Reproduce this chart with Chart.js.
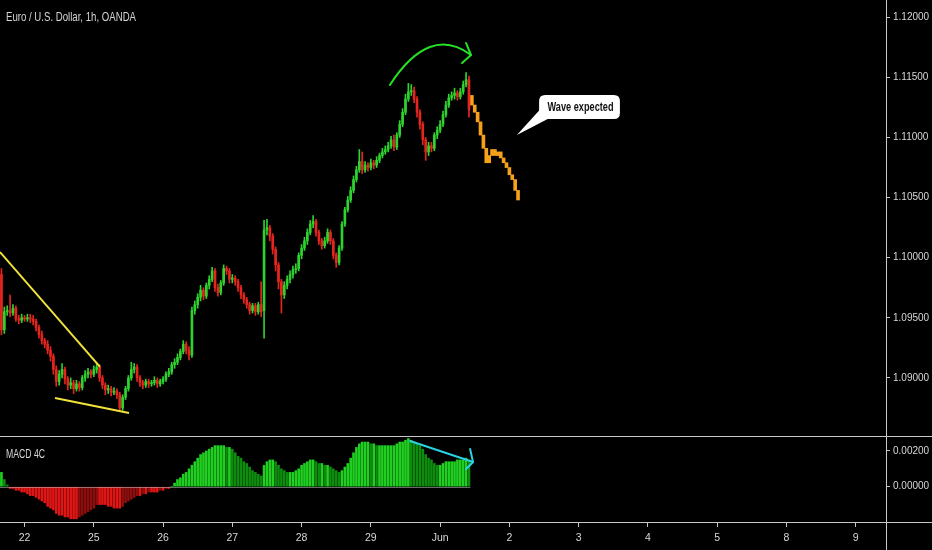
<!DOCTYPE html>
<html><head><meta charset="utf-8">
<script src="https://cdn.jsdelivr.net/npm/chart.js@4.4.1/dist/chart.umd.min.js"></script>
<style>
html,body{margin:0;padding:0;background:#000;overflow:hidden;}
#wrap{position:relative;width:932px;height:550px;background:#000;}
#c1{position:absolute;left:0;top:0;width:932px;height:437px;}
#c2{position:absolute;left:0;top:437px;width:932px;height:113px;}
</style></head><body>
<div id="wrap"><canvas id="c1" width="932" height="437"></canvas><canvas id="c2" width="932" height="113"></canvas></div>
<script>
// ---- hourly EUR/USD candles (OANDA, 1h) ----
const opens = [
1.0986,1.0940,1.0955,1.0956,1.0954,1.0958,1.0949,1.0948,1.0950,1.0949,
1.0950,1.0949,1.0947,1.0942,1.0936,1.0931,1.0928,1.0923,1.0918,1.0907,
1.0897,1.0903,1.0907,1.0899,1.0894,1.0896,1.0891,1.0895,1.0892,1.0900,
1.0903,1.0905,1.0903,1.0907,1.0909,1.0900,1.0894,1.0890,1.0891,1.0888,
1.0889,1.0886,1.0875,1.0884,1.0891,1.0900,1.0907,1.0909,1.0900,1.0896,
1.0894,1.0897,1.0895,1.0896,1.0898,1.0895,1.0897,1.0899,1.0903,1.0905,
1.0911,1.0913,1.0917,1.0922,1.0928,1.0923,1.0919,1.0956,1.0961,1.0967,
1.0973,1.0968,1.0977,1.0982,1.0989,1.0975,1.0971,1.0979,1.0991,1.0989,
1.0982,1.0983,1.0980,1.0975,1.0969,1.0965,1.0961,1.0956,1.0960,1.0955,
1.0961,1.0956,1.1023,1.1025,1.1018,1.1007,1.0994,1.0980,1.0969,1.0977,
1.0982,1.0986,1.0990,1.0991,1.1002,1.1008,1.1014,1.1021,1.1028,1.1030,
1.1021,1.1014,1.1010,1.1014,1.1021,1.1014,1.1002,1.0996,1.1008,1.1028,
1.1040,1.1048,1.1056,1.1065,1.1073,1.1080,1.1073,1.1077,1.1075,1.1079,
1.1077,1.1081,1.1085,1.1088,1.1090,1.1093,1.1098,1.1092,1.1102,1.1111,
1.1121,1.1132,1.1138,1.1139,1.1132,1.1121,1.1111,1.1098,1.1088,1.1093,
1.1091,1.1102,1.1106,1.1111,1.1119,1.1127,1.1133,1.1135,1.1137,1.1134,
1.1138,1.1144,1.1148];
const highs = [
1.0991,1.0959,1.0960,1.0969,1.0961,1.0960,1.0952,1.0953,1.0952,1.0953,
1.0953,1.0952,1.0949,1.0944,1.0939,1.0933,1.0931,1.0926,1.0920,1.0910,
1.0906,1.0912,1.0909,1.0901,1.0900,1.0898,1.0898,1.0897,1.0902,1.0906,
1.0908,1.0907,1.0910,1.0912,1.0911,1.0902,1.0896,1.0894,1.0893,1.0892,
1.0891,1.0888,1.0886,1.0893,1.0902,1.0913,1.0912,1.0911,1.0902,1.0898,
1.0899,1.0899,1.0898,1.0901,1.0900,1.0899,1.0901,1.0905,1.0908,1.0913,
1.0916,1.0920,1.0924,1.0931,1.0930,1.0926,1.0959,1.0964,1.0970,1.0977,
1.0975,1.0979,1.0985,1.0992,1.0991,1.0978,1.0981,1.0994,1.0993,1.0991,
1.0986,1.0985,1.0982,1.0977,1.0971,1.0967,1.0963,1.0962,1.0962,1.0963,
1.0980,1.1031,1.1032,1.1027,1.1020,1.1009,1.0996,1.0982,1.0980,1.0985,
1.0989,1.0993,1.0995,1.1004,1.1011,1.1017,1.1024,1.1031,1.1035,1.1032,
1.1023,1.1016,1.1017,1.1024,1.1023,1.1016,1.1004,1.1010,1.1030,1.1042,
1.1051,1.1059,1.1068,1.1076,1.1090,1.1088,1.1080,1.1079,1.1082,1.1081,
1.1084,1.1087,1.1091,1.1093,1.1096,1.1101,1.1102,1.1104,1.1114,1.1124,
1.1136,1.1145,1.1144,1.1142,1.1134,1.1123,1.1113,1.1100,1.1096,1.1096,
1.1104,1.1109,1.1114,1.1122,1.1130,1.1136,1.1138,1.1141,1.1139,1.1141,
1.1147,1.1154,1.1151];
const lows = [
1.0936,1.0937,1.0952,1.0951,1.0952,1.0947,1.0945,1.0946,1.0947,1.0947,
1.0946,1.0944,1.0939,1.0933,1.0928,1.0925,1.0920,1.0914,1.0903,1.0893,
1.0894,1.0900,1.0895,1.0890,1.0891,1.0887,1.0889,1.0889,1.0890,1.0897,
1.0900,1.0900,1.0901,1.0904,1.0897,1.0891,1.0886,1.0887,1.0885,1.0886,
1.0883,1.0872,1.0873,1.0882,1.0889,1.0898,1.0904,1.0897,1.0893,1.0891,
1.0892,1.0892,1.0893,1.0894,1.0892,1.0893,1.0895,1.0897,1.0901,1.0903,
1.0908,1.0911,1.0915,1.0920,1.0920,1.0915,1.0917,1.0953,1.0958,1.0964,
1.0965,1.0966,1.0974,1.0980,1.0972,1.0968,1.0969,1.0977,1.0986,1.0979,
1.0979,1.0977,1.0972,1.0966,1.0962,1.0958,1.0953,1.0954,1.0952,1.0953,
1.0951,1.0933,1.1019,1.1014,1.1003,1.0989,1.0974,1.0954,1.0966,1.0974,
1.0979,1.0983,1.0987,1.0989,1.0999,1.1006,1.1011,1.1019,1.1025,1.1018,
1.1011,1.1007,1.1008,1.1012,1.1011,1.0999,1.0992,1.0994,1.1006,1.1026,
1.1038,1.1046,1.1054,1.1063,1.1071,1.1070,1.1071,1.1072,1.1073,1.1074,
1.1075,1.1079,1.1083,1.1086,1.1088,1.1091,1.1089,1.1090,1.1100,1.1109,
1.1119,1.1130,1.1135,1.1129,1.1117,1.1107,1.1094,1.1081,1.1085,1.1088,
1.1089,1.1099,1.1104,1.1109,1.1117,1.1125,1.1131,1.1132,1.1131,1.1132,
1.1136,1.1142,1.1117];
const closes = [
1.0940,1.0955,1.0956,1.0954,1.0958,1.0949,1.0948,1.0950,1.0949,1.0950,
1.0949,1.0947,1.0942,1.0936,1.0931,1.0928,1.0923,1.0918,1.0907,1.0897,
1.0903,1.0907,1.0899,1.0894,1.0896,1.0891,1.0895,1.0892,1.0900,1.0903,
1.0905,1.0903,1.0907,1.0909,1.0900,1.0894,1.0890,1.0891,1.0888,1.0889,
1.0886,1.0875,1.0884,1.0891,1.0900,1.0907,1.0909,1.0900,1.0896,1.0894,
1.0897,1.0895,1.0896,1.0898,1.0895,1.0897,1.0899,1.0903,1.0905,1.0911,
1.0913,1.0917,1.0922,1.0928,1.0923,1.0919,1.0956,1.0961,1.0967,1.0973,
1.0968,1.0977,1.0982,1.0989,1.0975,1.0971,1.0979,1.0991,1.0989,1.0982,
1.0983,1.0980,1.0975,1.0969,1.0965,1.0961,1.0956,1.0960,1.0955,1.0961,
1.0955,1.1023,1.1025,1.1018,1.1007,1.0994,1.0980,1.0969,1.0977,1.0982,
1.0986,1.0990,1.0991,1.1002,1.1008,1.1014,1.1021,1.1028,1.1030,1.1021,
1.1014,1.1010,1.1014,1.1021,1.1014,1.1002,1.0996,1.1008,1.1028,1.1040,
1.1048,1.1056,1.1065,1.1073,1.1080,1.1073,1.1077,1.1075,1.1079,1.1077,
1.1081,1.1085,1.1088,1.1090,1.1093,1.1098,1.1092,1.1102,1.1111,1.1121,
1.1132,1.1138,1.1139,1.1132,1.1121,1.1111,1.1098,1.1088,1.1093,1.1091,
1.1102,1.1106,1.1111,1.1119,1.1127,1.1133,1.1135,1.1137,1.1134,1.1138,
1.1144,1.1148,1.1123];

// ---- projected path (orange) ----
const projStart = 163;
const projOpens  = [1.1135,1.1127,1.1121,1.1113,1.1102,1.1091,1.1079,1.1085,1.1090,1.1085,1.1088,1.1083,1.1079,1.1075,1.1069,1.1065,1.1056];
const projCloses = [1.1127,1.1121,1.1113,1.1102,1.1091,1.1079,1.1085,1.1090,1.1085,1.1088,1.1083,1.1079,1.1075,1.1069,1.1065,1.1056,1.1048];

// ---- MACD 4C histogram ----
const macdHist = [
0.0008,0.0004,0.0001,-0.0001,-0.0001,-0.0002,-0.0002,-0.0003,-0.0003,-0.0004,
-0.0005,-0.0005,-0.0006,-0.0007,-0.0008,-0.0009,-0.0011,-0.0012,-0.0013,-0.0015,
-0.0016,-0.0016,-0.0017,-0.0017,-0.0018,-0.0018,-0.0018,-0.0017,-0.0016,-0.0015,
-0.0014,-0.0013,-0.0012,-0.0010,-0.0010,-0.0010,-0.0010,-0.0011,-0.0011,-0.0012,
-0.0012,-0.0012,-0.0011,-0.0009,-0.0008,-0.0007,-0.0006,-0.0005,-0.0005,-0.0004,
-0.0004,-0.0003,-0.0003,-0.0003,-0.0003,-0.0002,-0.0002,-0.0001,-0.0001,0.0000,
0.0002,0.0004,0.0005,0.0007,0.0008,0.0010,0.0012,0.0014,0.0016,0.0018,
0.0019,0.0020,0.0021,0.0022,0.0023,0.0023,0.0023,0.0023,0.0022,0.0022,
0.0021,0.0019,0.0017,0.0016,0.0014,0.0013,0.0011,0.0009,0.0008,0.0007,
0.0006,0.0012,0.0014,0.0015,0.0015,0.0014,0.0012,0.0010,0.0009,0.0008,
0.0008,0.0008,0.0009,0.0010,0.0012,0.0013,0.0014,0.0015,0.0015,0.0014,
0.0013,0.0013,0.0012,0.0012,0.0011,0.0010,0.0009,0.0008,0.0009,0.0011,
0.0013,0.0016,0.0019,0.0022,0.0024,0.0025,0.0025,0.0025,0.0024,0.0024,
0.0023,0.0023,0.0023,0.0023,0.0023,0.0023,0.0023,0.0024,0.0025,0.0025,
0.0026,0.0027,0.0026,0.0025,0.0024,0.0023,0.0021,0.0018,0.0016,0.0015,
0.0013,0.0012,0.0012,0.0013,0.0014,0.0014,0.0014,0.0014,0.0015,0.0015,
0.0015,0.0016,0.0015];

// ---- axes ----
const slotCount = 307;                       // hourly slots across the visible time axis
const dayTickIndex = [8,32,56,80,104,128,152,176,200,224,248,272,296];
const dayTickText  = ['22','25','26','27','28','29','Jun','2','3','4','5','8','9'];
const priceTicks = [1.09,1.095,1.10,1.105,1.11,1.115,1.12];
const macdTicks = [0,0.002];
const priceMin = 1.085083, priceMax = 1.121439;
const macdMin = -0.002034, macdMax = 0.002784;

// ---- drawings (in slot index / price units) ----
const trendUpper = [[-0.5,1.10047],[34.15,1.09091]];
const trendLower = [[18.56,1.08833],[44.2,1.08708]];
const arcStart = [134.6,1.11437], arcCtrl = [148.3,1.11944], arcEnd = [162.7,1.11686];
const arcHead = [[161.0,1.11786],[159.6,1.11620]];
const bubble = {left:186.3,right:214.3,top:1.11353,bottom:1.11153,tip:[178.6,1.11021],sideP:1.11229,baseI:189.6,text:'Wave expected'};
const macdArrow = [[141.6,0.00256],[163.4,0.00138]];
const macdHead = [[162.4,0.00211],[161.0,0.00099]];

const FONT = "'Liberation Sans','DejaVu Sans',sans-serif";
const TXT = '#d6d6d6', AX = '#c8c8c8';
const UP = '#2fd22f', DN = '#e5261f', ORANGE = '#f6a11a';

const slots = Array.from({length: slotCount}, (_, i) => String(i));
const candleCol = opens.map((o, i) => closes[i] >= o ? UP : DN);
const bodyData = opens.map((o, i) => [o, closes[i]]);
const wickData = highs.map((h, i) => [lows[i], h]);
const projData = new Array(projStart).fill(null).concat(projOpens.map((o, i) => [o, projCloses[i]]));
const macdCol = macdHist.map((v, i) => {
  const prev = i > 0 ? macdHist[i-1] : v;
  if (v >= 0) return v >= prev ? '#20d020' : '#0d8c0d';
  return v <= prev ? '#e01616' : '#8e0e0e';
});

Chart.defaults.font.family = FONT;

// draw text squeezed horizontally to a given width (condensed look)
function fitText(ctx, text, x, y, width, font, align) {
  ctx.save();
  ctx.font = font;
  const w = ctx.measureText(text).width;
  const k = Math.min(1, width / w);
  ctx.translate(x, y);
  ctx.scale(k, 1);
  ctx.textAlign = align || 'left';
  ctx.fillText(text, 0, 0);
  ctx.restore();
}

const overlay1 = {
  id: 'overlay1',
  afterDatasetsDraw(chart) {
    const {ctx, scales: {x, y}} = chart;
    const P = p => [x.getPixelForValue(p[0]), y.getPixelForValue(p[1])];
    ctx.save();
    // trend lines
    ctx.strokeStyle = '#f2e33a'; ctx.lineWidth = 2;
    [trendUpper, trendLower].forEach(l => {
      const a = P(l[0]), b = P(l[1]);
      ctx.beginPath(); ctx.moveTo(a[0], a[1]); ctx.lineTo(b[0], b[1]); ctx.stroke();
    });
    // green arc arrow
    ctx.strokeStyle = '#25e025'; ctx.lineWidth = 2; ctx.lineCap = 'round';
    const s = P(arcStart), c = P(arcCtrl), e = P(arcEnd);
    ctx.beginPath(); ctx.moveTo(s[0], s[1]); ctx.quadraticCurveTo(c[0], c[1], e[0], e[1]); ctx.stroke();
    const h1 = P(arcHead[0]), h2 = P(arcHead[1]);
    ctx.beginPath(); ctx.moveTo(h1[0], h1[1]); ctx.lineTo(e[0], e[1]); ctx.lineTo(h2[0], h2[1]); ctx.stroke();
    // callout bubble
    const L = x.getPixelForValue(bubble.left), R = x.getPixelForValue(bubble.right);
    const T = y.getPixelForValue(bubble.top), B = y.getPixelForValue(bubble.bottom);
    const r = 6;
    ctx.fillStyle = '#ffffff';
    ctx.beginPath();
    ctx.moveTo(L + r, T); ctx.lineTo(R - r, T); ctx.quadraticCurveTo(R, T, R, T + r);
    ctx.lineTo(R, B - r); ctx.quadraticCurveTo(R, B, R - r, B); ctx.lineTo(L + r, B);
    ctx.quadraticCurveTo(L, B, L, B - r); ctx.lineTo(L, T + r); ctx.quadraticCurveTo(L, T, L + r, T);
    ctx.closePath(); ctx.fill();
    const tip = P(bubble.tip);
    ctx.beginPath();
    ctx.moveTo(L + 0.5, y.getPixelForValue(bubble.sideP));
    ctx.lineTo(tip[0], tip[1]);
    ctx.lineTo(x.getPixelForValue(bubble.baseI), B - 0.5);
    ctx.lineTo(L + 4, B - 4);
    ctx.closePath(); ctx.fill();
    ctx.fillStyle = '#111'; ctx.textBaseline = 'middle';
    fitText(ctx, bubble.text, (L + R) / 2 + 1, (T + B) / 2 + 0.5, 66, "bold 12.5px " + FONT, 'center');
    // title
    ctx.fillStyle = TXT; ctx.textBaseline = 'middle';
    fitText(ctx, 'Euro / U.S. Dollar, 1h, OANDA', 6, 17.5, 130, "13px " + FONT, 'left');
    // panel separator
    ctx.strokeStyle = AX; ctx.lineWidth = 1;
    ctx.beginPath(); ctx.moveTo(0, 436.5); ctx.lineTo(chart.width, 436.5); ctx.stroke();
    ctx.restore();
  }
};

const overlay2 = {
  id: 'overlay2',
  afterDatasetsDraw(chart) {
    const {ctx, chartArea, scales: {x, y}} = chart;
    ctx.save();
    // zero line under histogram
    const z = Math.round(y.getPixelForValue(0)) + 0.5;
    ctx.strokeStyle = 'rgba(190,190,190,0.55)'; ctx.lineWidth = 1;
    ctx.beginPath(); ctx.moveTo(x.getPixelForValue(0) - 1.5, z); ctx.lineTo(x.getPixelForValue(macdHist.length - 1) + 1.5, z); ctx.stroke();
    // cyan arrow
    const P = p => [x.getPixelForValue(p[0]), y.getPixelForValue(p[1])];
    ctx.strokeStyle = '#2ad3e2'; ctx.lineWidth = 2; ctx.lineCap = 'round';
    const a = P(macdArrow[0]), b = P(macdArrow[1]);
    ctx.beginPath(); ctx.moveTo(a[0], a[1]); ctx.lineTo(b[0], b[1]); ctx.stroke();
    const h1 = P(macdHead[0]), h2 = P(macdHead[1]);
    ctx.beginPath(); ctx.moveTo(h1[0], h1[1]); ctx.lineTo(b[0], b[1]); ctx.lineTo(h2[0], h2[1]); ctx.stroke();
    // label
    ctx.fillStyle = TXT; ctx.textBaseline = 'middle';
    fitText(ctx, 'MACD 4C', 6, 17.5, 39, "12px " + FONT, 'left');
    // bottom separator + axis line through time axis
    ctx.strokeStyle = AX; ctx.lineWidth = 1;
    const bY = Math.round(chartArea.bottom) - 0.5;
    ctx.beginPath(); ctx.moveTo(0, bY); ctx.lineTo(chart.width, bY); ctx.stroke();
    const rX = Math.round(chartArea.right) + 0.5;
    ctx.beginPath(); ctx.moveTo(rX, chartArea.bottom); ctx.lineTo(rX, chart.height); ctx.stroke();
    ctx.restore();
  }
};

const yAxisCommon = {
  position: 'right',
  afterFit: s => { s.width = 46; s.paddingTop = 0; s.paddingBottom = 0; },
  ticks: { color: TXT, font: { size: 10, family: FONT }, padding: 3, callback: v => Number(v).toFixed(5) },
  grid: { drawOnChartArea: false, drawTicks: true, tickLength: 4, color: AX },
  border: { color: AX, width: 1 }
};

new Chart(document.getElementById('c1'), {
  type: 'bar',
  data: {
    labels: slots,
    datasets: [
      { data: bodyData, backgroundColor: candleCol, barThickness: 2, grouped: false, minBarLength: 1 },
      { data: projData, backgroundColor: ORANGE, barThickness: 3, grouped: false, minBarLength: 2 },
      { data: wickData, backgroundColor: candleCol, barThickness: 1, grouped: false }
    ]
  },
  options: {
    responsive: false, animation: false, events: [],
    layout: { padding: 0 },
    plugins: { legend: { display: false }, tooltip: { enabled: false } },
    scales: {
      x: { type: 'category', display: false, offset: true, grid: { display: false } },
      y: Object.assign({}, yAxisCommon, {
        min: priceMin, max: priceMax,
        afterBuildTicks: s => { s.ticks = priceTicks.map(v => ({ value: v })); }
      })
    }
  },
  plugins: [overlay1]
});

new Chart(document.getElementById('c2'), {
  type: 'bar',
  data: {
    labels: slots,
    datasets: [
      { data: macdHist, backgroundColor: macdCol, barThickness: 2, grouped: false }
    ]
  },
  options: {
    responsive: false, animation: false, events: [],
    layout: { padding: 0 },
    plugins: { legend: { display: false }, tooltip: { enabled: false } },
    scales: {
      x: {
        type: 'category', offset: true,
        afterFit: s => { s.height = 27; s.paddingLeft = 0; s.paddingRight = 0; },
        ticks: {
          autoSkip: false, maxRotation: 0, minRotation: 0, padding: 5,
          color: TXT, font: { size: 10.5, family: FONT },
          callback: (v, i) => { const k = dayTickIndex.indexOf(i); return k >= 0 ? dayTickText[k] : ''; }
        },
        grid: {
          offset: false, drawOnChartArea: false, tickLength: 4,
          color: c => dayTickIndex.includes(c.index) ? AX : 'rgba(0,0,0,0)'
        },
        border: { display: false }
      },
      y: Object.assign({}, yAxisCommon, {
        min: macdMin, max: macdMax,
        afterBuildTicks: s => { s.ticks = macdTicks.map(v => ({ value: v })); }
      })
    }
  },
  plugins: [overlay2]
});
</script></body></html>
